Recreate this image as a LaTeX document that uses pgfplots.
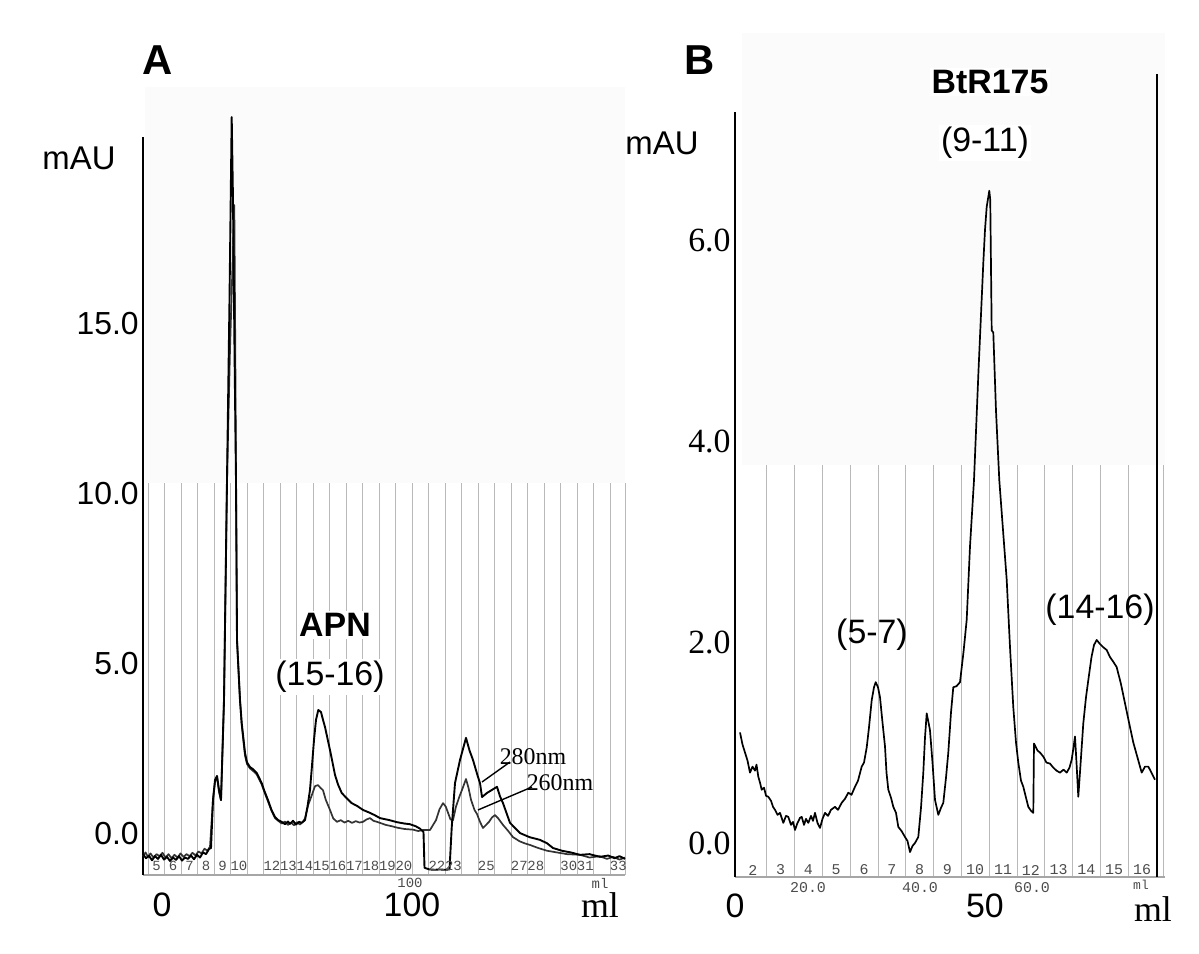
\documentclass[border=0pt]{standalone}
\usepackage{pgfplots}
\pgfplotsset{compat=1.18}
\usepackage{fontspec}
\setmainfont{Liberation Sans}
\newfontfamily\tnr{Liberation Serif}
\newfontfamily\cour{Liberation Mono}
\newcommand\fs[1]{\fontsize{#1}{#1}\selectfont}

\pgfplotstableread{
x y
-7.6 -0.60
-6.4 -0.72
-5.2 -0.65
-4.0 -0.78
-2.8 -0.66
-1.6 -0.74
-0.4 -0.62
0.8 -0.76
2.0 -0.68
3.2 -0.80
4.4 -0.70
5.6 -0.77
6.8 -0.66
8.0 -0.79
9.2 -0.70
10.4 -0.74
11.6 -0.64
12.8 -0.75
14.0 -0.62
15.2 -0.70
16.4 -0.55
17.6 -0.60
18.8 -0.45
19.6 -0.42
20.4 0.99
21.2 1.58
22.0 1.70
22.8 1.29
23.6 0.99
24.8 3.93
26.0 10.40
27.0 15.70
27.88 21.08
28.4 18.64
29.0 14.23
29.6 10.40
30.0 5.70
31.2 3.93
31.88 3.26
33.2 2.38
34.0 2.10
35.2 1.96
36.4 1.90
37.88 1.79
39.88 1.49
41.0 1.25
42.4 0.99
43.8 0.70
45.2 0.49
46.5 0.40
47.88 0.35
49.2 0.28
50.4 0.36
51.2 0.29
52.4 0.38
53.6 0.27
54.8 0.35
55.88 0.32
57.2 0.40
58.2 0.80
59.2 1.29
60.0 2.00
60.8 2.76
61.6 3.35
62.52 3.64
63.6 3.58
64.4 3.35
65.2 3.14
66.2 2.80
67.2 2.46
68.2 2.10
69.2 1.73
70.4 1.45
71.88 1.20
73.8 1.05
75.88 0.90
78.0 0.82
80.4 0.70
83.0 0.62
85.0 0.55
87.2 0.46
91.0 0.40
94.0 0.34
97.0 0.30
99.2 0.28
101.5 0.22
103.2 0.15
104.6 0.05
105.0 -1.00
107.0 -1.05
109.2 -1.06
111.0 -1.05
113.0 -1.06
115.0 -1.05
115.9 0.20
117.2 1.49
119.2 2.17
121.6 2.82
123.0 2.45
124.4 2.17
126.4 1.67
127.2 1.49
128.0 1.08
130.0 1.20
132.0 1.29
134.0 1.38
135.2 1.10
136.4 0.90
139.2 0.32
143.2 0.02
147.0 -0.10
151.2 -0.18
154.0 -0.28
156.4 -0.42
160.0 -0.50
163.5 -0.55
167.2 -0.62
171.0 -0.60
175.2 -0.68
178.5 -0.64
181.0 -0.72
183.0 -0.66
185.2 -0.74
}\aTwoEighty

\pgfplotstableread{
x y
-7.6 -0.66
-6.6 -0.55
-5.6 -0.68
-4.6 -0.58
-3.4 -0.70
-2.2 -0.60
-1.0 -0.66
0.2 -0.56
1.4 -0.70
2.6 -0.60
3.8 -0.72
5.0 -0.62
6.2 -0.70
7.4 -0.58
8.6 -0.68
9.8 -0.60
11.0 -0.66
12.2 -0.56
13.4 -0.64
14.6 -0.52
15.8 -0.58
17.0 -0.44
18.2 -0.50
19.2 -0.38
20.4 1.00
21.2 1.52
22.0 1.68
22.8 1.23
23.6 0.99
24.8 3.93
26.0 10.40
27.2 14.23
28.92 18.49
29.32 14.23
29.6 10.40
30.0 5.70
31.2 3.93
31.88 3.20
33.2 2.30
34.0 2.05
35.2 1.92
36.4 1.85
37.88 1.75
39.88 1.45
41.0 1.22
42.4 0.95
43.8 0.68
45.2 0.46
46.5 0.38
47.88 0.30
49.2 0.36
50.4 0.26
51.6 0.33
52.8 0.25
54.0 0.34
55.2 0.27
56.4 0.36
57.2 0.45
58.5 0.85
60.0 1.15
61.2 1.40
62.4 1.43
63.4 1.35
64.4 1.28
65.5 1.00
67.2 0.70
68.5 0.45
70.0 0.35
71.5 0.40
73.0 0.33
74.5 0.38
76.0 0.32
77.5 0.37
79.0 0.33
80.4 0.35
81.8 0.42
83.2 0.46
84.6 0.38
86.0 0.35
87.2 0.32
89.5 0.26
92.0 0.22
94.0 0.18
97.0 0.14
100.4 0.12
102.5 0.08
104.4 0.11
107.2 0.11
109.6 0.40
111.0 0.72
112.4 0.90
113.5 0.80
114.4 0.62
115.4 0.42
116.4 0.40
117.6 0.80
119.0 1.10
120.0 1.29
121.6 1.61
122.6 1.35
123.6 1.00
125.0 0.70
126.0 0.58
127.2 0.35
128.4 0.17
129.5 0.25
130.8 0.35
132.0 0.48
133.2 0.55
134.5 0.45
136.4 0.26
138.5 0.08
140.4 -0.10
143.0 -0.22
145.0 -0.28
147.2 -0.33
150.5 -0.42
154.0 -0.50
158.0 -0.55
162.0 -0.60
167.2 -0.62
171.0 -0.70
175.0 -0.66
178.0 -0.74
180.4 -0.68
183.0 -0.76
185.2 -0.70
}\aTwoSixty

\pgfplotstableread{
x y
1.0 1.10
1.5 0.98
2.0 0.90
2.5 0.82
3.0 0.70
3.5 0.76
4.0 0.72
4.3 0.78
4.66 0.66
5.0 0.60
5.34 0.53
5.8 0.55
6.2 0.47
6.66 0.46
7.2 0.42
7.6 0.36
8.0 0.33
8.5 0.28
9.0 0.30
9.66 0.20
10.2 0.27
10.66 0.26
11.2 0.18
11.6 0.21
12.0 0.13
12.5 0.20
13.0 0.25
13.34 0.26
13.8 0.18
14.2 0.24
14.66 0.20
15.2 0.27
15.6 0.22
16.0 0.30
16.5 0.20
17.0 0.15
17.5 0.24
18.0 0.30
18.6 0.27
19.2 0.33
20.0 0.36
20.6 0.33
21.34 0.40
22.0 0.44
22.66 0.50
23.3 0.48
24.0 0.56
24.6 0.62
25.34 0.76
25.8 0.80
26.34 0.95
26.8 1.15
27.34 1.42
27.8 1.55
28.14 1.60
28.6 1.55
29.0 1.45
29.5 1.20
30.0 0.96
30.3 0.70
30.66 0.53
31.2 0.45
31.66 0.36
32.2 0.30
32.66 0.16
33.3 0.12
34.0 0.06
34.5 0.02
35.0 -0.09
35.5 -0.03
36.0 0.00
36.66 0.06
37.2 0.35
37.66 0.70
38.0 1.05
38.34 1.29
38.7 1.20
39.0 1.12
39.5 0.80
40.0 0.43
40.66 0.28
41.2 0.35
41.66 0.40
42.2 0.65
42.66 0.90
43.2 1.30
43.66 1.55
44.3 1.56
45.0 1.60
45.7 1.90
46.34 2.22
47.0 2.95
47.8 3.61
48.7 4.70
49.66 5.77
50.0 6.10
50.34 6.33
50.86 6.49
51.05 6.40
51.34 5.10
51.66 5.08
52.2 4.30
52.86 3.61
54.34 2.62
55.0 1.95
55.66 1.35
56.2 1.00
56.66 0.80
57.2 0.62
57.66 0.56
58.2 0.45
58.66 0.36
59.2 0.32
59.66 0.30
59.8 0.99
60.5 0.92
61.0 0.90
61.66 0.86
62.3 0.80
63.0 0.79
63.66 0.75
64.3 0.72
65.0 0.70
65.7 0.73
66.34 0.70
66.9 0.75
67.34 0.83
67.7 0.95
68.0 1.06
68.3 0.80
68.66 0.46
69.2 0.85
69.66 1.19
70.2 1.45
70.66 1.62
71.3 1.85
71.8 1.97
72.34 2.02
73.0 1.98
73.6 1.95
74.34 1.92
75.0 1.85
75.7 1.80
76.34 1.75
77.2 1.58
78.0 1.39
78.8 1.20
79.66 1.00
80.5 0.85
81.34 0.70
82.0 0.76
82.66 0.76
83.3 0.70
84.0 0.63
}\bTrace

\begin{document}
\begin{tikzpicture}
\useasboundingbox (0,0) rectangle (599.5bp,477bp);
\fill[black!1.5] (72.5bp,235.5bp) rectangle (312.5bp,433.5bp);
\fill[black!1.5] (371bp,244.5bp) rectangle (582.5bp,460.5bp);

% ---------------- Panel A ----------------
\begin{axis}[
  at={(71.5bp,39.725bp)}, anchor=south west,
  scale only axis, width=241bp, height=368.9bp,
  xmin=-7.6, xmax=185.2, ymin=-1.2, ymax=20.5,
  clip=false,
  axis line style={draw=none},
  major tick length=0pt,
  xtick={0,100}, xticklabels={0,100},
  ytick={0,5,10,15}, yticklabels={0.0,5.0,10.0,15.0},
  xticklabel style={font=\fs{17}, anchor=north, inner sep=0pt, yshift=-9bp},
  yticklabel style={font=\fs{16}, anchor=east, inner sep=0pt, xshift=-2bp},
]
\pgfplotsinvokeforeach{-5.48,1.12,7.71,14.31,20.90,27.50,34.10,40.69,47.29,53.88,60.48,67.08,73.67,80.27,86.86,93.46,100.06,106.65,113.25,119.84,126.44,133.04,139.63,146.23,152.82,159.42,166.02,172.61,179.21,185.2}{
  \draw[gray!55, line width=0.4pt] (axis cs:#1,-1.2) -- (axis cs:#1,10.32);
}
\draw[gray!70, line width=1pt] (axis cs:-7.6,-1.2) -- (axis cs:185.2,-1.2);
\draw[black, line width=1.1pt] (axis cs:-7.6,-1.2) -- (axis cs:-7.6,20.5);

\addplot[draw=none, mark=none, nodes near coords, point meta=explicit symbolic,
  nodes near coords style={anchor=center, font=\cour\fs{7}, text=black!70, inner sep=0pt}]
  coordinates {(-2.18,-0.95)[5] (4.42,-0.95)[6] (11.01,-0.95)[7] (17.61,-0.95)[8]
  (24.20,-0.95)[9] (30.80,-0.95)[10] (43.99,-0.95)[12] (50.59,-0.95)[13]
  (57.18,-0.95)[14] (63.78,-0.95)[15] (70.38,-0.95)[16] (76.97,-0.95)[17]
  (83.57,-0.95)[18] (90.16,-0.95)[19] (96.76,-0.95)[20] (109.95,-0.95)[22]
  (116.55,-0.95)[23] (129.74,-0.95)[25] (142.93,-0.95)[27] (149.53,-0.95)[28]
  (162.72,-0.95)[30] (169.32,-0.95)[31] (182.51,-0.95)[33]};

\addplot[black!80, line width=0.85pt, line join=round] table {\aTwoSixty};
\addplot[black, line width=0.95pt, line join=round] table {\aTwoEighty};

\node[font=\cour\fs{7}, text=black!70] at (axis cs:99.2,-1.449) {100};
\node[font=\cour\fs{7}, text=black!70] at (axis cs:175.2,-1.449) {ml};
\node[font=\tnr\fs{18}, anchor=base] at (axis cs:175.2,-2.449) {ml};
\node[font=\fs{16.5}] at (axis cs:-33.2,19.85) {mAU};
\node[font=\bfseries\fs{21}] at (axis cs:-1.6,22.76) {A};
\node[font=\bfseries\fs{17}, fill=white, inner sep=1bp] at (axis cs:69.2,6.14) {APN};
\node[font=\fs{17}, fill=white, inner sep=1bp] at (axis cs:67.2,4.61) {(15-16)};
\draw[black, line width=0.7pt] (axis cs:128.0,1.522) -- (axis cs:139.2,2.110);
\draw[black, line width=0.7pt] (axis cs:126.4,0.699) -- (axis cs:148.0,1.375);
\node[font=\tnr\fs{12}, inner sep=0pt] at (axis cs:148.4,2.258) {280nm};
\node[font=\tnr\fs{12}, inner sep=0pt] at (axis cs:159.2,1.493) {260nm};
\end{axis}

% ---------------- Panel B ----------------
\begin{axis}[
  at={(367.5bp,38.5bp)}, anchor=south west,
  scale only axis, width=215bp, height=401.5bp,
  xmin=0, xmax=86, ymin=-0.3383, ymax=7.6517,
  clip=false,
  axis line style={draw=none},
  major tick length=0pt,
  xtick={0,50}, xticklabels={0,50},
  ytick={0,2,4,6}, yticklabels={0.0,2.0,4.0,6.0},
  xticklabel style={font=\fs{17}, anchor=north, inner sep=0pt, yshift=-8bp},
  yticklabel style={font=\tnr\fs{17}, anchor=east, inner sep=0pt, xshift=-2bp},
]
\pgfplotsinvokeforeach{6.34,11.90,17.46,23.02,28.58,34.14,39.70,45.26,50.82,56.38,61.94,67.50,73.06,78.62,85.6}{
  \draw[gray!55, line width=0.4pt] (axis cs:#1,-0.3383) -- (axis cs:#1,3.76);
}
\draw[gray!70, line width=1pt] (axis cs:0,-0.3383) -- (axis cs:86,-0.3383);
\draw[black, line width=1.1pt] (axis cs:0,-0.3383) -- (axis cs:0,7.274);
\draw[black, line width=1.3pt] (axis cs:84.4,-0.3383) -- (axis cs:84.4,7.6517);

\addplot[draw=none, mark=none, nodes near coords, point meta=explicit symbolic,
  nodes near coords style={anchor=center, font=\cour\fs{7.5}, text=black!70, inner sep=0pt}]
  coordinates {(3.56,-0.269)[2] (9.12,-0.269)[3] (14.68,-0.269)[4] (20.24,-0.269)[5]
  (25.80,-0.269)[6] (31.36,-0.269)[7] (36.92,-0.269)[8] (42.48,-0.269)[9]
  (48.04,-0.269)[10] (53.60,-0.269)[11] (59.16,-0.269)[12] (64.72,-0.269)[13]
  (70.28,-0.269)[14] (75.84,-0.269)[15] (81.40,-0.269)[16]};

\addplot[black, line width=0.85pt, line join=round] table {\bTrace};

\node[font=\cour\fs{7.5}, text=black!70] at (axis cs:14.6,-0.448) {20.0};
\node[font=\cour\fs{7.5}, text=black!70] at (axis cs:37,-0.448) {40.0};
\node[font=\cour\fs{7.5}, text=black!70] at (axis cs:59.4,-0.448) {60.0};
\node[font=\cour\fs{6.5}, text=black!70, inner sep=0pt] at (axis cs:81.2,-0.42) {ml};
\node[font=\tnr\fs{18}, anchor=base] at (axis cs:83.6,-0.78) {ml};
\node[font=\fs{16.5}] at (axis cs:-14.6,6.965) {mAU};
\node[font=\bfseries\fs{21}] at (axis cs:-7,7.791) {B};
\node[font=\bfseries\fs{17}, fill=white, inner sep=1bp] at (axis cs:51,7.572) {BtR175};
\node[font=\fs{17}, fill=white, inner sep=1bp] at (axis cs:50,6.965) {(9-11)};
\node[font=\fs{17}] at (axis cs:27.4,2.07) {(5-7)};
\node[font=\fs{17}] at (axis cs:73,2.318) {(14-16)};
\end{axis}
\end{tikzpicture}
\end{document}
